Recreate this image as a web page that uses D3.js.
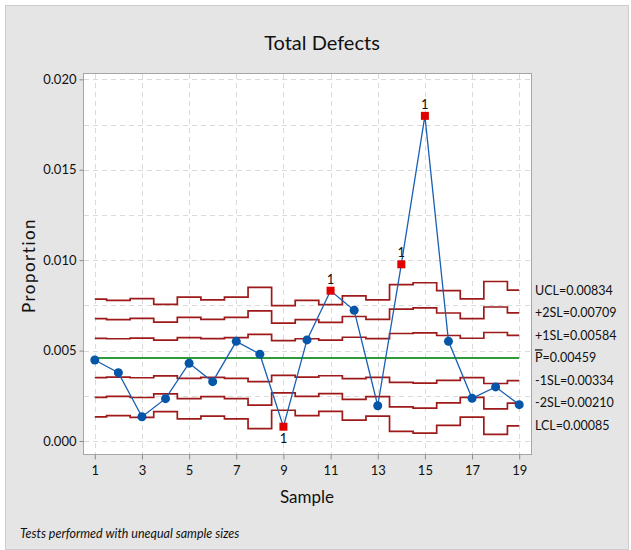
<!DOCTYPE html>
<html>
<head>
<meta charset="utf-8">
<script src="https://cdn.jsdelivr.net/npm/d3@7"></script>
<style>
    body { margin: 0; background: #fff; }
    svg { display: block; }
    text { font-family: Lato, "Open Sans", sans-serif; fill: #111; }
</style>
</head>
<body>
<svg id="chart" width="631" height="550"></svg>
<script>
// Sample numbers and defect proportions
const samples = d3.range(1, 20);
const proportions = [0.00448, 0.00378, 0.00134, 0.00234, 0.00430, 0.00328, 0.00551, 0.00480, 0.00079, 0.00559,
    0.00831, 0.00723, 0.00195, 0.00977, 0.01798, 0.00551, 0.00236, 0.00299, 0.00201];
// per-sample upper control limit (unequal sample sizes -> stepped limits)
const ucl = [0.00785, 0.00778, 0.00787, 0.00756, 0.00796, 0.00780, 0.00796, 0.00850, 0.00748, 0.00778,
    0.00754, 0.00803, 0.00780, 0.00865, 0.00875, 0.00832, 0.00786, 0.00882, 0.00834];
const pBar = 0.00459;
// samples that failed test 1
const flagged = [9, 11, 14, 15];
const yTicks = [0, 0.005, 0.010, 0.015, 0.020];
const yGrid = d3.range(0, 9).map(i => i * 0.0025);
const xTicks = [1, 3, 5, 7, 9, 11, 13, 15, 17, 19];
const limitLevels = [3, 2, 1, -1, -2, -3];
const limitNames = ['UCL', '+2SL', '+1SL', 'P', '-1SL', '-2SL', 'LCL'];
const limitLabelValues = [0.00834, 0.00709, 0.00584, 0.00459, 0.00334, 0.00210, 0.00085];

const plot = { left: 83, top: 73, right: 531, bottom: 454 };

const svg = d3.select('#chart');

// outer panel
svg.append('rect')
    .attr('x', 5.5).attr('y', 5.5)
    .attr('width', 623).attr('height', 544)
    .attr('fill', '#e5e5e5')
    .attr('stroke', '#cdcdcd');

const x = d3.scaleLinear().domain([0.5, 19.5]).range([plot.left, plot.right]);
const y = d3.scaleLinear().domain([-0.00072, 0.02035]).range([plot.bottom, plot.top]);

svg.append('rect')
    .attr('x', plot.left + 0.5).attr('y', plot.top + 0.5)
    .attr('width', plot.right - plot.left).attr('height', plot.bottom - plot.top)
    .attr('fill', '#fff')
    .attr('stroke', '#a6a6a6');

// dashed grid
const grid = svg.append('g').attr('stroke', '#dadada').attr('stroke-dasharray', '5,4').attr('stroke-width', 1);
grid.selectAll('line.h').data(yGrid).join('line')
    .attr('x1', plot.left + 1).attr('x2', plot.right)
    .attr('y1', d => Math.round(y(d)) + 0.5).attr('y2', d => Math.round(y(d)) + 0.5);
grid.selectAll('line.v').data(xTicks).join('line')
    .attr('y1', plot.top + 1).attr('y2', plot.bottom)
    .attr('x1', d => Math.round(x(d)) + 0.5).attr('x2', d => Math.round(x(d)) + 0.5);

// axes
const yAxis = svg.append('g')
    .attr('transform', `translate(${ plot.left + 0.5 },0)`)
    .call(d3.axisLeft(y).tickValues(yTicks).tickFormat(d3.format('.3f')).tickSize(4).tickPadding(3));
const xAxis = svg.append('g')
    .attr('transform', `translate(0,${ plot.bottom + 0.5 })`)
    .call(d3.axisBottom(x).tickValues(xTicks).tickSize(5).tickPadding(6));
for (const ax of [yAxis, xAxis]) {
    ax.select('.domain').remove();
    ax.selectAll('line').attr('stroke', '#8c8c8c');
    ax.selectAll('text').attr('font-size', 13).attr('fill', '#111')
        .style('font-family', 'Lato, "Open Sans", sans-serif');
}

// stepped control limits
const stepLine = d3.line()
    .x(d => x(d.sample))
    .y(d => y(d.value))
    .curve(d3.curveStep);

const limitData = limitLevels.map(k => samples.map((s, i) => ({
    sample: s,
    value: pBar + k * (ucl[i] - pBar) / 3,
})));

svg.append('g')
    .selectAll('path')
    .data(limitData)
    .join('path')
    .attr('fill', 'none')
    .attr('stroke', '#9e1a1a')
    .attr('stroke-width', 1.7)
    .attr('d', stepLine);

// centre line
svg.append('line')
    .attr('x1', x(1)).attr('x2', x(19))
    .attr('y1', y(pBar)).attr('y2', y(pBar))
    .attr('stroke', '#2f9a3a')
    .attr('stroke-width', 2);

// data line
const points = samples.map((s, i) => ({ sample: s, value: proportions[i], bad: flagged.includes(s) }));
svg.append('path')
    .datum(points)
    .attr('fill', 'none')
    .attr('stroke', '#1a5fb4')
    .attr('stroke-width', 1.3)
    .attr('d', d3.line().x(d => x(d.sample)).y(d => y(d.value)));

svg.append('g')
    .selectAll('circle')
    .data(points.filter(d => !d.bad))
    .join('circle')
    .attr('cx', d => x(d.sample))
    .attr('cy', d => y(d.value))
    .attr('r', 4.5)
    .attr('fill', '#0555a8');

svg.append('g')
    .selectAll('rect')
    .data(points.filter(d => d.bad))
    .join('rect')
    .attr('x', d => x(d.sample) - 4)
    .attr('y', d => y(d.value) - 4)
    .attr('width', 8)
    .attr('height', 8)
    .attr('fill', '#e00000');

// test failure labels: below the point when it falls under the centre line
svg.append('g')
    .selectAll('text')
    .data(points.filter(d => d.bad))
    .join('text')
    .attr('x', d => x(d.sample))
    .attr('y', d => d.value < pBar ? y(d.value) + 16 : y(d.value) - 7)
    .attr('text-anchor', 'middle')
    .attr('font-size', 13)
    .attr('fill', '#222')
    .text('1');

// limit labels on the right (P gets an overbar)
const limitText = svg.append('g')
    .selectAll('text')
    .data(limitNames)
    .join('text')
    .attr('x', plot.right + 4)
    .attr('y', (d, i) => y(limitLabelValues[i]))
    .attr('dy', '0.35em')
    .attr('font-size', 12.5);
limitText.append('tspan')
    .style('text-decoration', d => d === 'P' ? 'overline' : null)
    .text(d => d);
limitText.append('tspan')
    .text((d, i) => '=' + d3.format('.5f')(limitLabelValues[i]));

// titles
svg.append('text')
    .attr('x', 322).attr('y', 50)
    .attr('text-anchor', 'middle')
    .attr('font-size', 20)
    .text('Total Defects');

svg.append('text')
    .attr('transform', `translate(35,${ (plot.top + plot.bottom) / 2 + 2 }) rotate(-90)`)
    .attr('text-anchor', 'middle')
    .attr('font-size', 17)
    .attr('letter-spacing', 1.5)
    .text('Proportion');

svg.append('text')
    .attr('x', (plot.left + plot.right) / 2).attr('y', 503)
    .attr('text-anchor', 'middle')
    .attr('font-size', 17)
    .text('Sample');

svg.append('text')
    .attr('x', 20).attr('y', 538)
    .attr('font-size', 12.5)
    .attr('font-style', 'italic')
    .text('Tests performed with unequal sample sizes');
</script>
</body>
</html>
